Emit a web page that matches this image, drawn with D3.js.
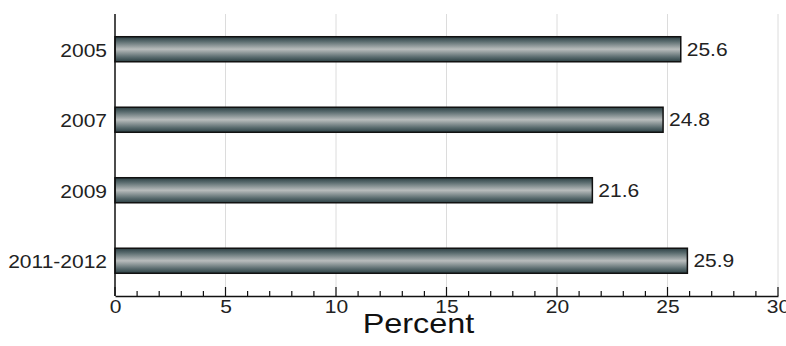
<!DOCTYPE html>
<html><head><meta charset="utf-8">
<script src="https://cdn.jsdelivr.net/npm/d3@7/dist/d3.min.js"></script>
<style>body{margin:0;background:#fff;font-family:"Liberation Sans",Arial,sans-serif}</style>
</head><body><svg id="c" width="786" height="346"></svg>
<script>
const categories = ["2005","2007","2009","2011-2012"];
const values = [25.6,24.8,21.6,25.9];
const majorTicks = [0,5,10,15,20,25,30];
const minorTicks = d3.range(0,31,1);

const SX = 1.2; // horizontal stretch of text as in reference
const FS = 17.5;
const svg = d3.select("#c");
const m = {left:115, top:14};
const x = d3.scaleLinear().domain([0,30]).range([m.left, 778]);
const y = d3.scaleBand().domain(categories).range([m.top, 296]).paddingInner(0.645).paddingOuter(0.3225);

const defs = svg.append("defs");
const g = defs.append("linearGradient").attr("id","bg").attr("x1",0).attr("y1",0).attr("x2",0).attr("y2",1);
[[0,"#2b3f43"],[0.18,"#586a6d"],[0.5,"#b9bdbd"],[0.82,"#586a6d"],[1,"#2b3f43"]].forEach(([o,c])=>g.append("stop").attr("offset",o).attr("stop-color",c));

// gridlines
svg.append("g").selectAll("line").data(majorTicks.filter(d=>d>0)).join("line")
  .attr("x1",d=>x(d)).attr("x2",d=>x(d)).attr("y1",m.top).attr("y2",296)
  .attr("stroke","#dcdcdc").attr("stroke-width",1);

// bars
svg.append("g").selectAll("rect").data(categories).join("rect")
  .attr("x",x(0)).attr("y",d=>y(d)).attr("width",(d,i)=>x(values[i])-x(0)).attr("height",y.bandwidth())
  .attr("fill","url(#bg)").attr("stroke","#111").attr("stroke-width",1.5);

// value labels
svg.append("g").selectAll("text").data(categories).join("text")
  .attr("transform",(d,i)=>`translate(${x(values[i])+6},${y(d)+y.bandwidth()/2+6.5}) scale(${SX},1)`)
  .attr("font-size",FS).attr("fill","#222").text((d,i)=>values[i].toFixed(1));

// y axis
const ya = svg.append("g").attr("transform",`translate(${m.left},0)`).call(d3.axisLeft(y).tickSize(0));
ya.select(".domain").remove();
ya.append("line").attr("x1",0).attr("x2",0).attr("y1",m.top).attr("y2",296).attr("stroke","#111").attr("stroke-width",1.5);
ya.selectAll(".tick text").attr("x",null).attr("dy",null)
  .attr("transform",`translate(-8,7.5) scale(${SX},1)`)
  .attr("font-size",FS).attr("font-family","Liberation Sans, Arial, sans-serif").attr("fill","#222");

// x axis
const xa = svg.append("g").attr("transform",`translate(0,296)`);
xa.call(d3.axisBottom(x).tickValues(majorTicks).tickSize(0).tickFormat(d3.format("d")));
xa.select(".domain").attr("stroke","#111").attr("stroke-width",1.5);
xa.selectAll(".tick text").attr("y",null).attr("dy",null)
  .attr("transform",`translate(0,17) scale(${SX},1)`)
  .attr("font-size",FS).attr("font-family","Liberation Sans, Arial, sans-serif").attr("fill","#222");
xa.append("g").selectAll("line").data(minorTicks).join("line")
  .attr("x1",d=>x(d)).attr("x2",d=>x(d)).attr("y1",d=>d%5===0?-9:-5).attr("y2",0)
  .attr("stroke","#111").attr("stroke-width",1.2);

svg.append("text").attr("transform",`translate(418.5,333) scale(${SX},1)`).attr("text-anchor","middle")
  .attr("font-size",27).attr("fill","#111").text("Percent");
</script></body></html>
